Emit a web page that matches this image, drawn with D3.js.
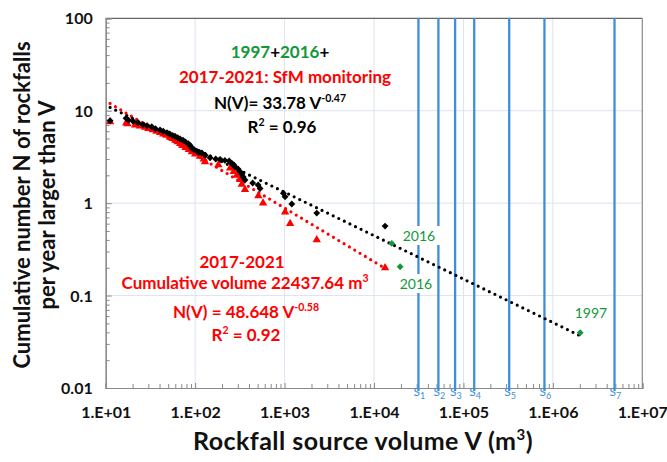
<!DOCTYPE html>
<html><head><meta charset="utf-8">
<script src="https://cdn.jsdelivr.net/npm/d3@7"></script>
<style>
html,body{margin:0;padding:0;background:#fff;}
svg text{font-family:Lato,"Noto Sans",sans-serif;}
</style></head>
<body><svg id="c" width="667" height="462"></svg>
<script>
// ---- data ----
const blackV = [11.2,16.9,18,20.2,23,26.1,29,32.7,36,40.5,44,48.5,52,56,59.6,64,68,73.2,78,84,88,91.6,97,104,110,119,130,147,170,190,215,240,256,270,279,302,318,332,345,361,440,506,532,970,1014,1205,2290,13300];
const blackN = [7.8,8.3,7.9,7.7,7.4,7.1,6.9,6.7,6.4,6.2,6.0,5.8,5.6,5.4,5.3,5.1,4.95,4.8,4.6,4.4,4.2,3.95,3.8,3.66,3.55,3.49,3.3,3.1,3.0,2.98,2.9,2.86,2.7,2.6,2.48,2.34,2.19,2.05,1.92,1.78,1.65,1.57,1.44,1.28,1.17,0.98,0.78,0.565];
const redV = [11.2,17,17.5,21.3,24,27.5,30,33.6,37,40.5,44,48,52,56,60,64,68,72,78,85,92,100,113,125,129,182,246,270,292,318,332,361,509,575,1014,1154,2290,13300];
const redN = [7.6,7.4,7.2,7.0,6.8,6.6,6.4,6.2,6.0,5.8,5.6,5.4,5.2,5.0,4.8,4.6,4.4,4.2,4.0,3.8,3.6,3.4,3.2,3.0,2.8,2.6,2.4,2.2,2.0,1.8,1.6,1.4,1.2,1.0,0.8,0.6,0.4,0.2];
const greenV = [15800,19600,2020000];
const greenN = [0.367,0.205,0.0396];
const greenLabels = ["2016","2016","1997"];
const sourceV = [31400,52500,80700,132000,325000,805000,4890000];
const sourceLabels = ["1","2","3","4","5","6","7"];
const fitAll = {a:33.78, b:-0.47, from:11.2, to:2.0e6};
const fitRed = {a:48.648, b:-0.58, from:11.2, to:13300};
const yTicks = [100,10,1,0.1,0.01];
const yTickLabels = ["100","10","1","0.1","0.01"];
const xTicks = [1e1,1e2,1e3,1e4,1e5,1e6,1e7];
const xTickLabels = ["1.E+01","1.E+02","1.E+03","1.E+04","1.E+05","1.E+06","1.E+07"];

const svg = d3.select("#c");
const L=105.7,R=642.3,T=18.3,B=388;
const x = d3.scaleLog().domain([10,1e7]).range([L,R]);
const y = d3.scaleLog().domain([0.01,100]).range([B,T]);
const GRID="#dce3f0", AX="#8a8a8a", BLUE="#3d8fdc", GREEN="#12983a", RED="#ff0000";

// gridlines
svg.append("g").selectAll("line").data(xTicks.slice(1,-1)).join("line")
  .attr("x1",d=>x(d)).attr("x2",d=>x(d)).attr("y1",T).attr("y2",B)
  .attr("stroke",GRID).attr("stroke-width",1);
svg.append("g").selectAll("line").data(yTicks.slice(1,-1)).join("line")
  .attr("y1",d=>y(d)).attr("y2",d=>y(d)).attr("x1",L).attr("x2",R)
  .attr("stroke",GRID).attr("stroke-width",1);

// frame
svg.append("line").attr("x1",L).attr("x2",R).attr("y1",T).attr("y2",T).attr("stroke","#666").attr("stroke-width",1.2);
svg.append("line").attr("x1",R).attr("x2",R).attr("y1",T).attr("y2",B).attr("stroke",AX).attr("stroke-width",1.2);

// minor tick values
const xMinor=[], yMinor=[];
for(let e=1;e<7;e++) for(let m=2;m<10;m++) xMinor.push(m*Math.pow(10,e));
for(let e=-2;e<2;e++) for(let m=2;m<10;m++) yMinor.push(m*Math.pow(10,e));

// axes
const gx = svg.append("g").attr("transform",`translate(0,${B})`);
gx.call(d3.axisBottom(x).tickValues(xMinor).tickSize(-4).tickFormat(""));
const gx2 = svg.append("g").attr("transform",`translate(0,${B})`);
gx2.call(d3.axisBottom(x).tickValues(xTicks).tickSize(-5).tickPadding(19).tickFormat((d,i)=>xTickLabels[i]));
const gy = svg.append("g").attr("transform",`translate(${L},0)`);
gy.call(d3.axisLeft(y).tickValues(yMinor).tickSize(-4).tickFormat(""));
const gy2 = svg.append("g").attr("transform",`translate(${L},0)`);
gy2.call(d3.axisLeft(y).tickValues(yTicks).tickSize(-6).tickPadding(13).tickFormat((d,i)=>yTickLabels[i]));
[gx,gx2,gy,gy2].forEach(g=>{
  g.select(".domain").attr("stroke",AX).attr("stroke-width",1.2);
  g.selectAll(".tick line").attr("stroke",AX);
  g.selectAll("text").attr("font-size",16).attr("font-weight","bold").attr("fill","#111")
   .style("font-family","Lato,sans-serif");
});
gy2.selectAll("text").attr("dy","0.35em");

// source vertical lines
svg.append("g").selectAll("line").data(sourceV).join("line")
  .attr("x1",d=>x(d)).attr("x2",d=>x(d)).attr("y1",T).attr("y2",B+3)
  .attr("stroke",BLUE).attr("stroke-width",2.3);
const sl = svg.append("g").selectAll("text").data(sourceV).join("text")
  .attr("x",d=>x(d)-5).attr("y",B+8).attr("fill",BLUE).attr("font-size",12);
sl.append("tspan").text("S");
sl.append("tspan").attr("font-size",9).attr("dy",2.5).text((d,i)=>sourceLabels[i]);

// fit lines (dotted)
function fitLine(f,color){
  const pts=[f.from,f.to].map(v=>[x(v),y(f.a*Math.pow(v,f.b))]);
  svg.append("path").attr("d",d3.line()(pts)).attr("stroke",color).attr("stroke-width",3.2)
    .attr("stroke-linecap","round").attr("stroke-dasharray","0,6.2").attr("fill","none");
}
fitLine(fitRed,RED);
fitLine(fitAll,"#000");

// markers
const diamond = d3.symbol().type(d3.symbolDiamond2).size(30);
const tri = d3.symbol().type(d3.symbolTriangle).size(30);
svg.append("g").selectAll("path").data(redV).join("path")
  .attr("transform",(d,i)=>`translate(${x(d)},${y(redN[i])})`).attr("d",tri).attr("fill",RED);
svg.append("g").selectAll("path").data(blackV).join("path")
  .attr("transform",(d,i)=>`translate(${x(d)},${y(blackN[i])})`).attr("d",diamond).attr("fill","#000");
svg.append("g").selectAll("path").data(greenV).join("path")
  .attr("transform",(d,i)=>`translate(${x(d)},${y(greenN[i])})`).attr("d",diamond).attr("fill",GREEN);

// green labels
const glPos = [[419,241],[416,289],[591,318]];
glPos.forEach((p,i)=>{
  const g = svg.append("g");
  const r = g.append("rect").attr("fill","#fff");
  const t = g.append("text").attr("x",p[0]).attr("y",p[1]).attr("text-anchor","middle")
    .attr("font-size",14).attr("fill",GREEN).text(greenLabels[i]);
  if(i<2){
    const bb=t.node().getBBox();
    r.attr("x",bb.x-3).attr("y",bb.y-1).attr("width",bb.width+(i==0?8:6)).attr("height",bb.height+2);
  } else r.remove();
});

// annotations
function ann(xc,yb,parts,size){
  const t=svg.append("text").attr("x",xc).attr("y",yb).attr("text-anchor","middle")
    .attr("font-size",size).attr("font-weight","bold");
  parts.forEach(p=>{
    const s=t.append("tspan").attr("fill",p.c).text(p.t);
    if(p.sup){ s.attr("font-size",size*0.62).attr("dy",-7); }
    if(p.after){ s.attr("dy",7); }
  });
}
ann(280,58,[{t:"1997",c:GREEN},{t:"+",c:"#000"},{t:"2016",c:GREEN},{t:"+",c:"#000"}],17);
ann(285,83,[{t:"2017-2021: SfM monitoring",c:RED}],17);
ann(280,109,[{t:"N(V)= 33.78 V",c:"#000"},{t:"-0.47",c:"#000",sup:1}],17);
ann(282,133,[{t:"R",c:"#000"},{t:"2",c:"#000",sup:1},{t:" = 0.96",c:"#000",after:1}],17);
ann(242,268,[{t:"2017-2021",c:RED}],17);
ann(245,289,[{t:"Cumulative volume 22437.64 m",c:RED},{t:"3",c:RED,sup:1}],17);
ann(246,318,[{t:"N(V) = 48.648 V",c:RED},{t:"-0.58",c:RED,sup:1}],17);
ann(246,341,[{t:"R",c:RED},{t:"2",c:RED,sup:1},{t:" = 0.92",c:RED,after:1}],17);

// axis titles
const xt=svg.append("text").attr("x",363).attr("y",450).attr("text-anchor","middle")
  .attr("font-size",25).attr("font-weight","bold").attr("fill","#111").attr("letter-spacing",0.45);
xt.append("tspan").text("Rockfall source volume V (m");
xt.append("tspan").attr("font-size",15).attr("dy",-10).text("3");
xt.append("tspan").attr("dy",10).text(")");
const yt=svg.append("text").attr("transform","translate(0,205) rotate(-90)").attr("text-anchor","middle")
  .attr("font-size",22).attr("font-weight","bold").attr("fill","#111");
yt.append("tspan").attr("x",0).attr("y",30).text("Cumulative number N of rockfalls");
yt.append("tspan").attr("x",0).attr("y",55).text("per year larger than V");
</script></body></html>
